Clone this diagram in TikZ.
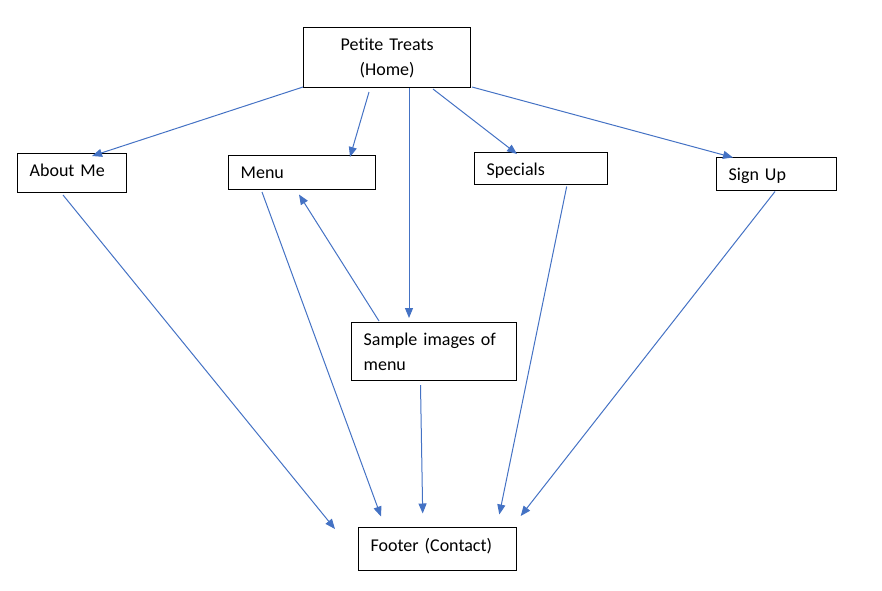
\documentclass[tikz,border=0pt]{standalone}
\usepackage{fontspec}
\setmainfont{Carlito}[Ligatures={TeX,NoCommon}]
\usetikzlibrary{arrows.meta}
\definecolor{conn}{HTML}{4472C4}
\tikzset{
  pagebox/.style={draw=black, line width=1.3pt, fill=white, anchor=north west,
    inner xsep=12pt, inner ysep=0pt, align=left,
    font=\fontsize{18}{25}\selectfont},
  link/.style={draw=conn, line width=1pt, -{Triangle[length=10pt,width=8pt]}}
}
\begin{document}
\begin{tikzpicture}[x=1pt,y=-1pt]
\useasboundingbox (0,0) rectangle (882,590);
% boxes
\node[pagebox, align=center, text width=143pt, minimum height=60pt] (home) at (303,27) {Petite Treats\\(Home)};
\node[pagebox, text width=85pt, minimum height=39pt, text height=12pt, text depth=5.6pt] (about) at (17,153) {About Me};
\node[pagebox, text width=123pt, minimum height=34pt, text height=12pt, text depth=0.6pt] (menu) at (228,155) {Menu};
\node[pagebox, text width=109pt, minimum height=32pt, text height=14pt, text depth=0.4pt] (specials) at (474,152) {Specials};
\node[pagebox, text width=96pt, minimum height=33pt, text height=12pt, text depth=0pt] (signup) at (716,157) {Sign Up};
\node[pagebox, text width=141pt, minimum height=58pt] (sample) at (351,322) {Sample images of\\menu};
\node[pagebox, text width=134pt, minimum height=43pt, text height=12pt, text depth=7pt] (footer) at (358,527) {Footer (Contact)};
% connector end points
\coordinate (hA) at (303,87);   \coordinate (aT) at (92,156);
\coordinate (hM) at (369,92);   \coordinate (mT) at (350,157);
\coordinate (hS) at (409,88);   \coordinate (sT) at (409,318);
\coordinate (hP) at (433,89);   \coordinate (pT) at (517,154);
\coordinate (hU) at (472,87);   \coordinate (uT) at (733,157.5);
\coordinate (sM) at (379,321);  \coordinate (smT) at (299,194.5);
\coordinate (aF) at (63,195);   \coordinate (faT) at (335,529);
\coordinate (mF) at (262,192);  \coordinate (fmT) at (381,516.5);
\coordinate (sF) at (420.5,385);\coordinate (fsT) at (422.7,513.5);
\coordinate (pF) at (566.7,186.5); \coordinate (fpT) at (499.3,514.5);
\coordinate (uF) at (775,191.5); \coordinate (fuT) at (520.7,516);
% connectors
\draw[link] (hA) -- (aT);
\draw[link] (hM) -- (mT);
\draw[link] (hS) -- (sT);
\draw[link] (hP) -- (pT);
\draw[link] (hU) -- (uT);
\draw[link] (sM) -- (smT);
\draw[link] (aF) -- (faT);
\draw[link] (mF) -- (fmT);
\draw[link] (sF) -- (fsT);
\draw[link] (pF) -- (fpT);
\draw[link] (uF) -- (fuT);
\end{tikzpicture}
\end{document}
